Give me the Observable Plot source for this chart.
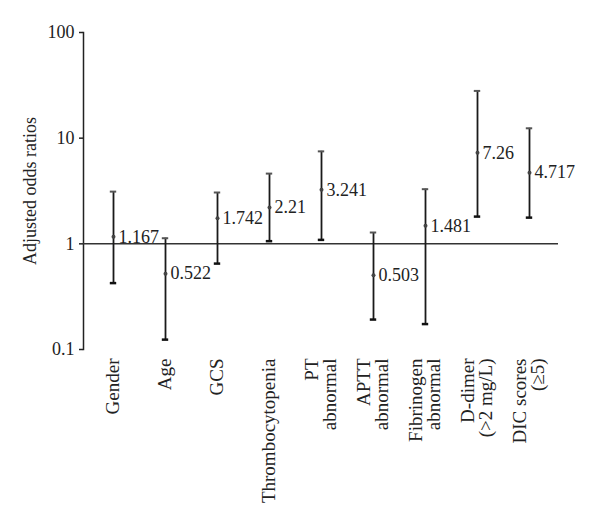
<!DOCTYPE html>
<html>
<head>
<meta charset="utf-8">
<script src="https://cdn.jsdelivr.net/npm/d3@7"></script>
<script src="https://cdn.jsdelivr.net/npm/@observablehq/plot@0.6"></script>
<style>
  html, body { margin: 0; padding: 0; background: #fff; }
  #chart svg { display: block; }
</style>
</head>
<body>
<div id="chart"></div>
<script>
const categories = ["Gender", "Age", "GCS", "Thrombocytopenia", "PT\nabnormal", "APTT\nabnormal", "Fibrinogen\nabnormal", "D-dimer\n(>2 mg/L)", "DIC scores\n(≥5)"];
const oddsRatios = [1.167, 0.522, 1.742, 2.21, 3.241, 0.503, 1.481, 7.26, 4.717];
const lowerCI = [0.425, 0.124, 0.65, 1.06, 1.09, 0.192, 0.174, 1.81, 1.77];
const upperCI = [3.12, 1.13, 3.06, 4.62, 7.5, 1.28, 3.29, 28.0, 12.4];
const yTicks = [0.1, 1, 10, 100];
const yLabel = "Adjusted odds ratios";

const data = categories.map((c, i) => ({cat: c, or: oddsRatios[i], lo: lowerCI[i], hi: upperCI[i]}));

const font = "'Liberation Serif', 'Times New Roman', serif";

const chart = Plot.plot({
  width: 600,
  height: 526,
  marginLeft: 83,
  marginRight: 42,
  marginTop: 32,
  marginBottom: 177,
  style: {fontFamily: font, fontSize: "18px", color: "#222", background: "#fff"},
  x: {type: "band", domain: categories, padding: 0},
  y: {type: "log", domain: [0.1, 100]},
  marks: [
    Plot.frame({anchor: "left", stroke: "#222", strokeWidth: 1.5}),
    Plot.axisY({ticks: yTicks, tickFormat: d => String(d), tickSize: 4, tickPadding: 5, fontSize: 18, stroke: "#222", strokeWidth: 1.5, label: null}),
    Plot.text([yLabel], {text: d => d, frameAnchor: "left", textAnchor: "middle", rotate: -90, dx: -53, fontSize: 18, fill: "#222"}),
    Plot.axisX({tickSize: 0, tickRotate: -90, tickPadding: 9, fontSize: 19, lineHeight: 0.9, label: null}),
    Plot.ruleY([1], {stroke: "#333", strokeWidth: 1.5}),
    Plot.ruleX(data, {x: "cat", y1: "lo", y2: "hi", stroke: "#1a1a1a", strokeWidth: 1.8}),
    Plot.tickY(data, {x: "cat", y: "hi", stroke: "#555", strokeWidth: 2, insetLeft: 22.8, insetRight: 22.8}),
    Plot.tickY(data, {x: "cat", y: "lo", stroke: "#111", strokeWidth: 2.5, insetLeft: 22.8, insetRight: 22.8}),
    Plot.dot(data, {x: "cat", y: "or", r: 2, fill: "#444"}),
    Plot.text(data, {x: "cat", y: "or", text: d => String(d.or), textAnchor: "start", dx: 5, fontSize: 18, fill: "#222"})
  ]
});
document.getElementById("chart").appendChild(chart);
</script>
</body>
</html>
